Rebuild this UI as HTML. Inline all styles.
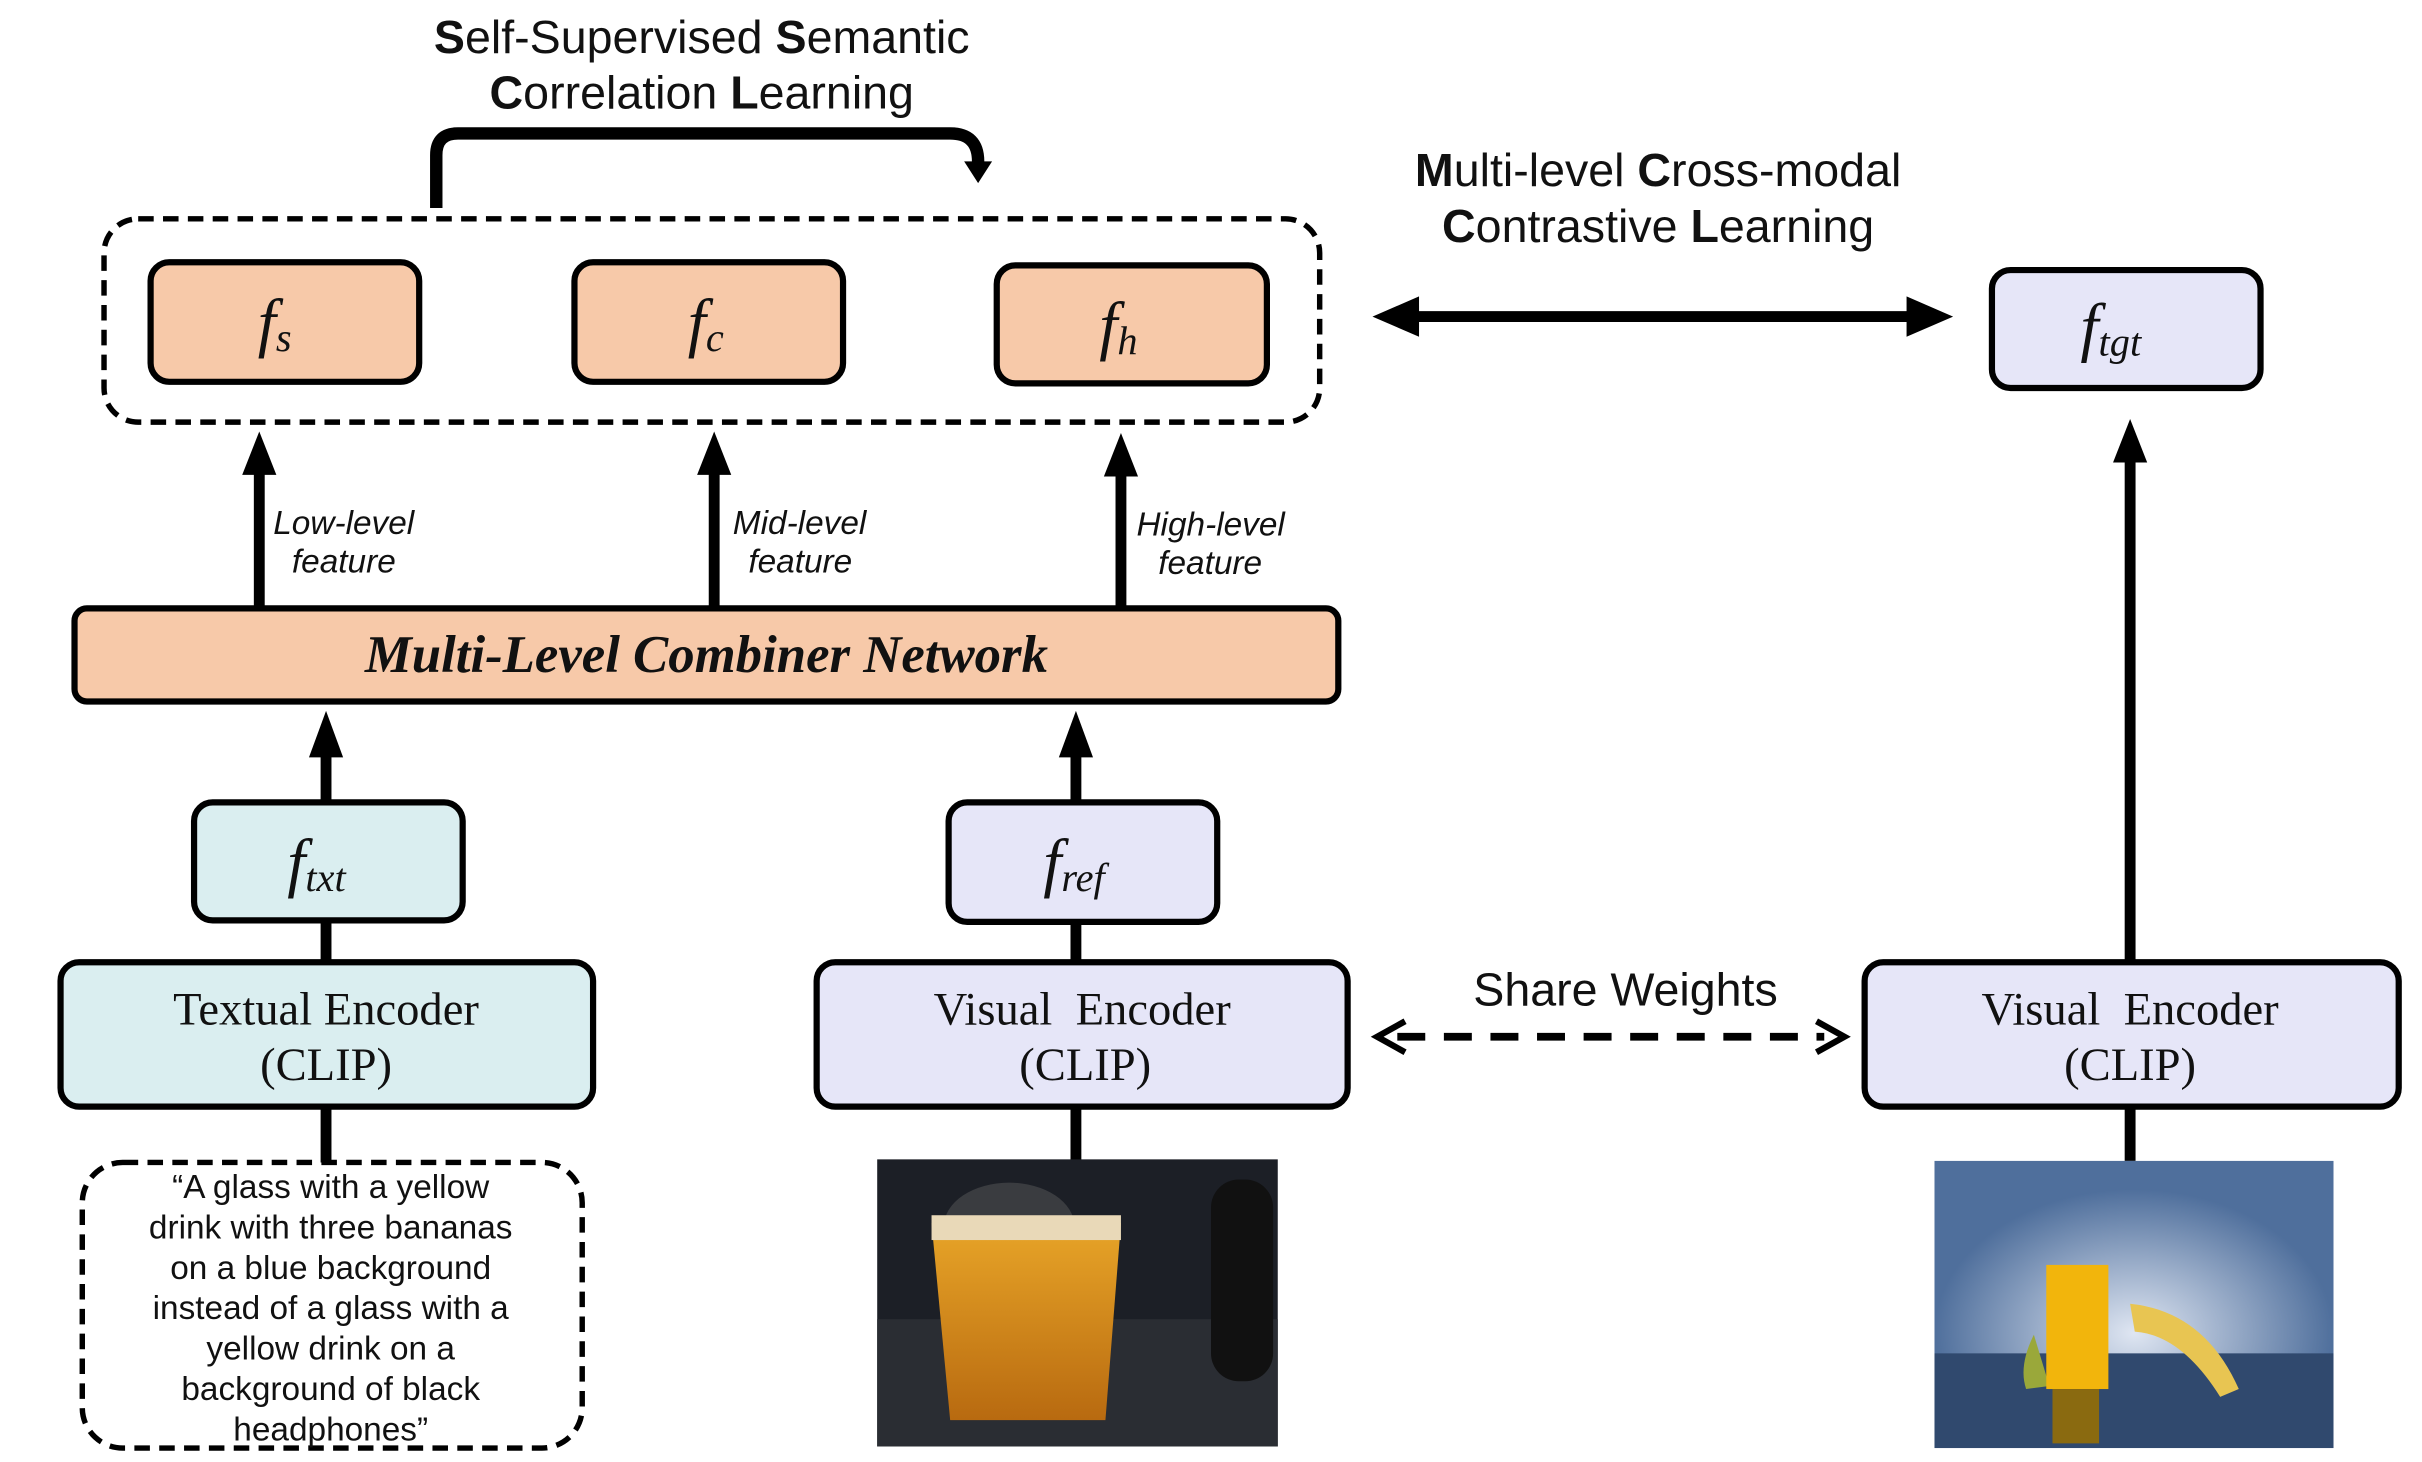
<!DOCTYPE html>
<html><head><meta charset="utf-8"><style>
html,body{margin:0;padding:0;background:#fff;}
svg{display:block;}
.t{font-family:"Liberation Sans",sans-serif;fill:#111;}
.s{font-family:"Liberation Serif",serif;fill:#111;}
</style></head><body>
<svg width="2422" height="1462" viewBox="0 0 1560 942" preserveAspectRatio="none" xmlns="http://www.w3.org/2000/svg">
<defs>
<radialGradient id="glow" cx="0.5" cy="0.6" r="0.5"><stop offset="0" stop-color="#dfe6f2"/><stop offset="1" stop-color="#4f6f9c"/></radialGradient>
<linearGradient id="juice" x1="0" y1="0" x2="0" y2="1"><stop offset="0" stop-color="#e8a528"/><stop offset="1" stop-color="#b86a10"/></linearGradient>
</defs>
<text class="t" x="452" y="34" font-size="30" text-anchor="middle"><tspan font-weight="bold">S</tspan>elf-Supervised <tspan font-weight="bold">S</tspan>emantic</text>
<text class="t" x="452" y="70" font-size="30" text-anchor="middle"><tspan font-weight="bold">C</tspan>orrelation <tspan font-weight="bold">L</tspan>earning</text>
<path d="M281 134 V100 Q281 86 295 86 H612 Q630 86 630 104 V106" fill="none" stroke="#000" stroke-width="8"/>
<polygon points="621,104 639,104 630,118" fill="#000"/>
<rect x="67" y="141" width="783" height="131" rx="22" fill="none" stroke="#000" stroke-width="3.5" stroke-dasharray="10 6"/>
<g stroke="#000" stroke-width="4" fill="#f7c9a9">
<rect x="97" y="169" width="173" height="77" rx="12"/>
<rect x="370" y="169" width="173" height="77" rx="12"/>
<rect x="642" y="171" width="174" height="76" rx="12"/>
</g>
<text class="s" x="166" y="222" font-size="42" font-style="italic">f<tspan font-size="26" dy="4">s</tspan></text>
<text class="s" x="443" y="222" font-size="42" font-style="italic">f<tspan font-size="26" dy="4">c</tspan></text>
<text class="s" x="708" y="224" font-size="42" font-style="italic">f<tspan font-size="26" dy="4">h</tspan></text>
<g stroke="#000" stroke-width="7">
<line x1="167" y1="392" x2="167" y2="300"/>
<line x1="460" y1="392" x2="460" y2="300"/>
<line x1="722" y1="392" x2="722" y2="302"/>
<line x1="210" y1="518" x2="210" y2="482"/>
<line x1="693" y1="518" x2="693" y2="482"/>
<line x1="210" y1="594" x2="210" y2="622"/>
<line x1="693" y1="594" x2="693" y2="622"/>
<line x1="210" y1="712" x2="210" y2="750"/>
<line x1="693" y1="712" x2="693" y2="748"/>
<line x1="1372" y1="712" x2="1372" y2="748"/>
<line x1="1372" y1="622" x2="1372" y2="294"/>
</g>
<g fill="#000">
<polygon points="156,306 178,306 167,278"/>
<polygon points="449,306 471,306 460,278"/>
<polygon points="711,307 733,307 722,279"/>
<polygon points="199,488 221,488 210,458"/>
<polygon points="682,488 704,488 693,458"/>
<polygon points="1361,298 1383,298 1372,270"/>
</g>
<g class="t" font-size="21.5" font-style="italic">
<text x="176" y="344">Low-level</text><text x="188" y="369">feature</text>
<text x="472" y="344">Mid-level</text><text x="482" y="369">feature</text>
<text x="732" y="345">High-level</text><text x="746" y="370">feature</text>
</g>
<rect x="48" y="392" width="814" height="60" rx="8" fill="#f7c9a9" stroke="#000" stroke-width="4"/>
<text class="s" x="455" y="433" font-size="34" font-weight="bold" font-style="italic" text-anchor="middle">Multi-Level Combiner Network</text>
<rect x="125" y="517" width="173" height="76" rx="12" fill="#daeef0" stroke="#000" stroke-width="4"/>
<text class="s" x="185" y="570" font-size="42" font-style="italic">f<tspan font-size="26" dy="4">txt</tspan></text>
<rect x="611" y="517" width="173" height="77" rx="12" fill="#e6e6f8" stroke="#000" stroke-width="4"/>
<text class="s" x="672" y="570" font-size="42" font-style="italic">f<tspan font-size="26" dy="4">ref</tspan></text>
<rect x="39" y="620" width="343" height="93" rx="12" fill="#daeef0" stroke="#000" stroke-width="4"/>
<text class="s" x="210" y="660" font-size="30" text-anchor="middle">Textual Encoder</text>
<text class="s" x="210" y="696" font-size="30" text-anchor="middle">(CLIP)</text>
<rect x="526" y="620" width="342" height="93" rx="12" fill="#e6e6f8" stroke="#000" stroke-width="4"/>
<text class="s" x="697" y="660" font-size="30" text-anchor="middle">Visual&#160;&#160;Encoder</text>
<text class="s" x="699" y="696" font-size="30" text-anchor="middle">(CLIP)</text>
<rect x="1201" y="620" width="344" height="93" rx="12" fill="#e6e6f8" stroke="#000" stroke-width="4"/>
<text class="s" x="1372" y="660" font-size="30" text-anchor="middle">Visual&#160;&#160;Encoder</text>
<text class="s" x="1372" y="696" font-size="30" text-anchor="middle">(CLIP)</text>
<text class="t" x="1047" y="648" font-size="30" text-anchor="middle">Share Weights</text>
<line x1="900" y1="668" x2="1175" y2="668" stroke="#000" stroke-width="5" stroke-dasharray="18 12"/>
<polyline points="905,658 887,668 905,678" fill="none" stroke="#000" stroke-width="4"/>
<polyline points="1170,658 1188,668 1170,678" fill="none" stroke="#000" stroke-width="4"/>
<text class="t" x="1068" y="120" font-size="30" text-anchor="middle"><tspan font-weight="bold">M</tspan>ulti-level <tspan font-weight="bold">C</tspan>ross-modal</text>
<text class="t" x="1068" y="156" font-size="30" text-anchor="middle"><tspan font-weight="bold">C</tspan>ontrastive <tspan font-weight="bold">L</tspan>earning</text>
<line x1="905" y1="204" x2="1237" y2="204" stroke="#000" stroke-width="7"/>
<polygon points="884,204 914,191 914,217" fill="#000"/>
<polygon points="1258,204 1228,191 1228,217" fill="#000"/>
<rect x="1283" y="174" width="173" height="76" rx="12" fill="#e6e6f8" stroke="#000" stroke-width="4"/>
<text class="s" x="1340" y="225" font-size="42" font-style="italic">f<tspan font-size="26" dy="4">tgt</tspan></text>
<rect x="53" y="749" width="322" height="184" rx="26" fill="#fff" stroke="#000" stroke-width="3.5" stroke-dasharray="10 6"/>
<g class="t" font-size="21.5" text-anchor="middle">
<text x="213" y="772">“A glass with a yellow</text>
<text x="213" y="798">drink with three bananas</text>
<text x="213" y="824">on a blue background</text>
<text x="213" y="850">instead of a glass with a</text>
<text x="213" y="876">yellow drink on a</text>
<text x="213" y="902">background of black</text>
<text x="213" y="928">headphones”</text>
</g>
<rect x="565" y="747" width="258" height="185" fill="#1c1f26"/>
<rect x="565" y="850" width="258" height="82" fill="#2a2d33"/>
<ellipse cx="650" cy="790" rx="42" ry="28" fill="#3a3c40"/>
<rect x="780" y="760" width="40" height="130" rx="18" fill="#111"/>
<path d="M600 788 H722 L712 915 H612 Z" fill="url(#juice)"/>
<rect x="600" y="783" width="122" height="16" fill="#e9d9b8"/>
<rect x="1246" y="748" width="257" height="185" fill="url(#glow)"/>
<rect x="1246" y="872" width="257" height="61" fill="#30496e"/>
<path d="M1372 840 Q1420 845 1442 895 L1430 900 Q1405 860 1375 858 Z" fill="#e8c552"/>
<path d="M1310 860 Q1300 880 1305 895 L1320 893 Z" fill="#9aa83a"/>
<rect x="1318" y="815" width="40" height="80" fill="#f2b50c"/>
<rect x="1322" y="895" width="30" height="35" fill="#8a6a10"/>
</svg>
</body></html>
